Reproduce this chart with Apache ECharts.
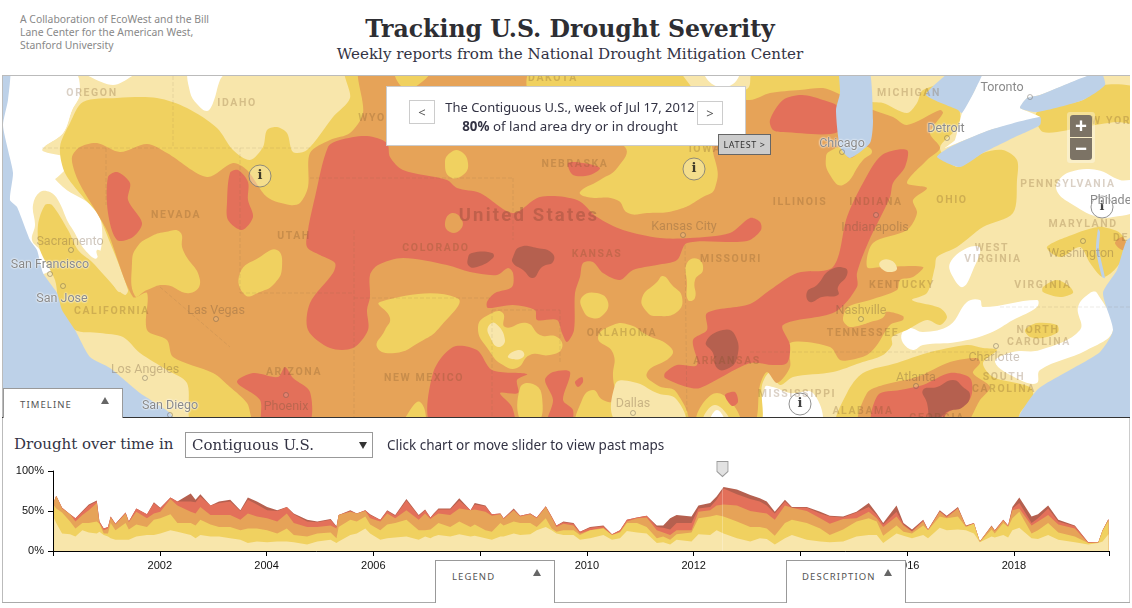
<!DOCTYPE html>
<html><head><meta charset="utf-8">
<script src="https://cdn.jsdelivr.net/npm/echarts@6/dist/echarts.min.js"></script>
<style>
html,body{margin:0;padding:0;background:#fff;width:1132px;height:608px;overflow:hidden}
div{position:absolute;white-space:nowrap;box-sizing:border-box}
#collab{left:20px;top:13px;font:10.4px/13px "Noto Sans",sans-serif;color:#888;white-space:pre}
#title{left:0;width:1140px;text-align:center;top:12px;font:bold 23.6px/34px "DejaVu Serif",serif;color:#2e2e33}
#sub{left:0;width:1140px;text-align:center;top:44px;font:15.1px/20px "DejaVu Serif",serif;color:#333344}
#map{left:2px;top:76px;width:1128px;height:341px;overflow:hidden}
#mapChart{left:0;top:0;width:1128px;height:341px}
#frameTop{left:2px;top:75px;width:1128px;height:1px;background:#bbb}
#frameBot{left:2px;top:417px;width:1128px;height:1px;background:#333}
#frameL{left:2px;top:75px;width:1px;height:528px;background:#bbb}
#frameR{left:1129px;top:417px;width:1px;height:186px;background:#ccc}
#frameB{left:2px;top:602px;width:1128px;height:1px;background:#aaa}
.lab{transform:translate(-50%,-50%);font-family:Roboto,sans-serif}
.st{font-size:10.5px;font-weight:700;letter-spacing:1.6px;color:rgba(120,80,40,.27)}
.city{font-size:12.5px;color:rgba(110,85,60,.34)}
.clear{color:#8a8a8a;text-shadow:0 0 2px #fff,0 0 2px #fff}
.big{font-size:18.5px;font-weight:700;letter-spacing:2.2px;color:rgba(130,70,50,.36)}
#box{left:386px;top:86px;width:360px;height:60px;background:#fff;border:1px solid #ccc}
.nav{width:26px;height:24px;background:#fff;border:1px solid #ccc;color:#555;font:13px/22px "Noto Sans",sans-serif;text-align:center}
#t1{left:386px;width:368px;text-align:center;top:98px;font:12.95px/18px "Noto Sans",sans-serif;color:#334}
#t2{left:386px;width:368px;text-align:center;top:117px;font:13.3px/18px "Noto Sans",sans-serif;color:#334}
#latest{left:718px;top:134px;width:53px;height:21px;background:#ccc;border:1px solid #666;font:9px/19px "Noto Sans",sans-serif;letter-spacing:.6px;text-align:center;color:#333}
#zoomH{left:1067px;top:112px;width:28px;height:51px;background:rgba(255,255,255,.35);border-radius:3px}
.zb{left:1070px;width:22px;height:22px;background:#7c7365;color:#fff;text-align:center;font:bold 21px/21px "Noto Sans",sans-serif}
.tab{background:#fff;border:1px solid #999;border-bottom:none;font:9.5px/12px "Noto Sans",sans-serif;letter-spacing:1.1px;color:#555}
.tri{width:0;height:0;border-left:4px solid transparent;border-right:4px solid transparent;border-bottom:7px solid #666}
#lbl{left:14px;top:434px;font:15px/20px "DejaVu Serif",serif;color:#334}
#sel{left:185px;top:432px;width:188px;height:26px;border:1px solid #999;background:#fff;font:15px/24px "DejaVu Serif",serif;color:#334;padding-left:6px}
#caret{left:359px;top:442px;width:0;height:0;border-left:4px solid transparent;border-right:4px solid transparent;border-top:7px solid #333}
#hint{left:387px;top:435px;font:13.5px/20px "Noto Sans",sans-serif;color:#334}
#timeChart{left:0;top:455px;width:1132px;height:125px}
</style></head><body>
<div id="collab">A Collaboration of EcoWest and the Bill
Lane Center for the American West,
Stanford University</div>
<div id="title">Tracking U.S. Drought Severity</div>
<div id="sub">Weekly reports from the National Drought Mitigation Center</div>
<div id="map"><div id="mapChart"></div><div id="mapLabels"></div></div>
<div id="frameTop"></div><div id="frameL"></div><div id="frameR"></div>
<div id="timeChart"></div>
<div id="frameB"></div><div id="frameBot"></div>
<div id="box"></div>
<div class="nav" style="left:409px;top:100px">&lt;</div>
<div class="nav" style="left:697px;top:101px">&gt;</div>
<div id="t1">The Contiguous U.S., week of Jul 17, 2012</div>
<div id="t2"><b>80%</b> of land area dry or in drought</div>
<div id="latest">LATEST &gt;</div>
<div id="zoomH"></div>
<div class="zb" style="top:115px;border-radius:3px 3px 0 0">+</div>
<div class="zb" style="top:138px;border-radius:0 0 3px 3px">−</div>
<div class="tab" style="left:3px;top:388px;width:120px;height:30px;padding:10px 0 0 16px">TIMELINE</div>
<div class="tri" style="left:101px;top:397px"></div>
<div class="tab" style="left:435px;top:560px;width:120px;height:43px;padding:10px 0 0 16px">LEGEND</div>
<div class="tri" style="left:533px;top:569px"></div>
<div class="tab" style="left:786px;top:560px;width:120px;height:43px;padding:10px 0 0 15px">DESCRIPTION</div>
<div class="tri" style="left:884px;top:569px"></div>
<div id="lbl">Drought over time in</div>
<div id="sel">Contiguous U.S.</div><div id="caret"></div>
<div id="hint">Click chart or move slider to view past maps</div>
<script>
// ---------- timeline values (% of land area at or above each severity) ----------
var years=[2000.02,2000.06,2000.17,2000.32,2000.42,2000.55,2000.67,2000.82,2000.87,2000.95,
2001.03,2001.08,2001.17,2001.36,2001.42,2001.56,2001.76,2001.89,2002.01,2002.20,
2002.33,2002.58,2002.67,2002.76,2002.95,2003.11,2003.32,2003.51,2003.65,2003.82,
2004.01,2004.20,2004.38,2004.51,2004.76,2004.95,2005.20,2005.31,2005.35,2005.57,
2005.69,2005.85,2005.94,2006.13,2006.26,2006.41,2006.62,2006.85,2006.97,2007.07,
2007.13,2007.22,2007.44,2007.61,2007.82,2007.90,2008.10,2008.22,2008.38,2008.44,
2008.63,2008.75,2008.94,2009.06,2009.23,2009.34,2009.43,2009.56,2009.75,2009.87,
2010.06,2010.31,2010.47,2010.62,2010.75,2010.94,2011.12,2011.31,2011.43,2011.56,
2011.68,2011.96,2012.09,2012.31,2012.43,2012.56,2012.81,2013.06,2013.24,2013.37,
2013.52,2013.71,2013.84,2014.12,2014.37,2014.55,2014.80,2015.05,2015.28,2015.43,
2015.55,2015.80,2015.93,2016.09,2016.30,2016.39,2016.61,2016.74,2016.95,2017.10,
2017.25,2017.36,2017.58,2017.64,2017.80,2017.89,2017.97,2018.10,2018.33,2018.45,
2018.64,2018.83,2019.14,2019.39,2019.58,2019.66,2019.77];
var d0=[41,35,22,21,18,26,23,22,24,20,
18,16,14,14,14,18,20,20,22,26,
24,20,16,20,18,18,16,14,10,12,
11,12,12,11,8,12,14,10,12,20,
22,28,22,14,16,17,18,14,18,16,
18,20,18,21,18,19,16,14,18,18,
22,20,21,26,30,26,22,20,20,14,
16,20,14,16,25,23,22,10,11,8,
14,12,21,20,26,22,16,12,16,15,
8,16,20,14,12,11,12,18,20,20,
10,22,19,16,20,16,29,26,27,26,
22,11,18,17,20,17,26,29,16,15,
20,14,11,8,10,12,21];
var d1=[57,53,48,37,28,35,35,37,34,22,
22,35,26,35,27,33,30,39,41,46,
35,35,32,39,33,30,30,26,28,28,
26,22,28,20,18,22,23,16,30,39,
37,43,33,26,33,35,39,26,26,27,
30,35,30,37,30,33,26,24,35,32,
37,35,35,30,41,28,24,26,26,20,
26,28,20,23,35,35,30,16,18,14,
21,23,41,43,45,43,37,30,30,28,
19,35,39,35,28,20,27,37,41,37,
19,32,24,22,32,26,43,41,43,30,
34,11,27,22,35,30,41,49,22,26,
35,23,18,10,10,25,38];
var d2=[62,69,53,46,37,45,51,60,35,26,
28,42,33,47,36,49,41,47,49,65,
57,49,47,55,45,45,45,39,47,43,
41,37,47,35,30,30,32,28,45,49,
47,50,41,37,47,41,51,39,47,40,
43,47,45,53,51,52,49,44,46,40,
51,43,46,41,55,42,30,34,32,22,
26,29,20,24,37,41,42,26,23,20,
26,26,49,51,57,58,57,50,48,47,
39,57,54,50,41,34,40,41,49,41,
30,43,32,24,37,26,49,42,53,31,
34,12,31,25,38,31,51,53,32,37,
45,33,28,10,11,26,39];
var d3=[62,69,54,46,41,49,57,62,37,28,
30,43,34,48,37,53,46,60,53,67,
62,62,61,68,57,60,62,50,64,58,
51,50,55,46,37,36,39,30,45,50,
47,51,45,39,50,44,63,44,51,42,
46,52,52,63,51,58,56,46,47,41,
52,44,47,42,56,43,32,36,34,24,
29,31,21,26,39,42,44,30,29,27,
35,35,53,55,64,78,71,65,62,57,
47,62,54,54,47,43,42,48,55,45,
33,49,33,25,38,27,50,43,54,31,
35,12,31,26,39,32,53,60,35,41,
53,37,31,11,11,26,40];
var d4=[62,69,54,46,41,50,58,63,37,28,
30,43,34,48,37,53,46,61,54,67,
62,72,64,71,57,62,64,51,67,62,
55,51,55,47,39,37,40,31,45,51,
47,51,46,39,51,45,65,45,52,42,
47,53,53,66,51,60,57,46,47,41,
53,44,47,42,56,43,32,37,35,24,
30,32,21,26,39,42,44,32,32,41,
45,43,57,60,68,80,77,70,66,62,
49,64,55,55,49,44,43,49,60,47,
35,57,35,27,39,27,51,44,55,32,
35,12,32,26,39,32,55,67,43,46,
57,39,32,11,11,26,40];
var selectedWeek=2012.54;
var tickYears=[2000,2002,2004,2006,2008,2010,2012,2014,2016,2018,2019.78];
var labelYears=[2002,2004,2006,2008,2010,2012,2014,2016,2018];

// ---------- map areas, traced in map units ----------
var areaD0=[[[72,70],[113,85],[147,70],[1140,65],[1140,425],[0,425],[0,190],[35,192],[72,160],[42,150],[63,133],[72,110],[80,93]]];
var areaClear=[
[[-5,65],[72,70],[80,93],[72,110],[63,133],[42,150],[47,167],[63,187],[93,207],[102,228],[97,258],[85,250],[73,230],[68,222],[58,200],[50,192],[40,192],[33,205],[35,225],[32,240],[40,250],[52,270],[-5,275]],
[[190,70],[190,92],[197,104],[207,111],[213,103],[220,80],[226,70]],
[[1057,183],[1070,172],[1097,170],[1120,180],[1135,182],[1135,210],[1113,217],[1097,217],[1070,203],[1058,193]],
[[950,263],[967,248],[980,248],[973,270],[963,287],[953,277]],
[[902,333],[910,328],[923,332],[950,325],[967,302],[980,300],[983,307],[1037,300],[1037,307],[1013,320],[990,333],[957,342],[923,345],[913,350],[903,343]],
[[1097,293],[1113,330],[1087,350],[1040,370],[1037,383],[1020,380],[995,362],[1013,352],[1040,350],[1080,330],[1078,307],[1090,293]],
[[765,387],[773,387],[790,393],[813,393],[820,425],[763,425]]];
var areaD1=[
[[83,102],[117,98],[157,98],[187,108],[217,128],[233,150],[250,160],[263,147],[267,130],[277,127],[287,133],[293,152],[307,150],[333,117],[350,98],[347,70],[860,70],[867,100],[883,103],[907,113],[917,103],[923,90],[950,85],[960,113],[958,127],[940,148],[957,167],[983,153],[1003,150],[1017,160],[1017,180],[1013,213],[983,227],[957,247],[937,257],[935,267],[927,293],[912,300],[940,308],[947,317],[940,325],[927,320],[907,330],[892,337],[892,345],[883,355],[860,363],[833,372],[793,377],[780,385],[770,372],[762,385],[757,425],[195,425],[187,383],[167,370],[140,353],[123,337],[100,333],[75,330],[60,310],[55,280],[40,250],[38,225],[45,205],[52,205],[68,230],[78,250],[92,262],[115,287],[125,295],[128,290],[107,235],[97,213],[83,197],[65,173],[60,147],[70,123]],
[[1037,112],[1083,100],[1103,85],[1140,90],[1140,123],[1117,122],[1083,127],[1043,132]],
[[1047,247],[1077,233],[1093,228],[1103,227],[1120,233],[1127,247],[1117,267],[1103,277],[1090,263],[1080,247],[1060,257]],
[[1043,287],[1057,280],[1070,287],[1073,293],[1060,297],[1043,292]],
[[1025,330],[1037,323],[1057,325],[1058,332],[1043,338],[1030,337]],
[[838,425],[847,393],[863,373],[897,363],[927,353],[967,345],[983,348],[997,350],[983,363],[993,377],[1030,387],[1033,397],[1020,413],[1017,425]]];
var areaD2=[
[[72,157],[80,147],[97,143],[120,152],[147,144],[167,153],[207,177],[233,163],[247,170],[267,197],[290,205],[300,203],[308,187],[310,153],[330,140],[350,133],[363,113],[362,65],[537,65],[537,90],[700,95],[750,100],[770,93],[800,90],[823,88],[837,93],[850,100],[873,110],[893,117],[907,125],[940,110],[943,113],[930,133],[940,148],[927,160],[907,183],[927,188],[913,200],[917,213],[907,230],[873,243],[867,267],[882,267],[923,267],[913,277],[900,280],[897,290],[870,300],[848,307],[843,320],[850,327],[870,322],[885,312],[903,316],[903,320],[890,325],[877,345],[867,355],[850,360],[840,360],[830,347],[790,343],[790,367],[777,383],[767,372],[760,385],[750,425],[257,425],[247,403],[230,387],[213,373],[173,357],[167,340],[147,330],[147,293],[133,297],[108,233],[97,213],[83,190],[75,173]],
[[860,425],[867,393],[883,385],[917,377],[950,362],[977,358],[980,363],[973,373],[990,387],[980,400],[963,425]],
[[1115,243],[1122,237],[1128,248],[1122,250]]];
var islandD1=[
[[590,135],[700,135],[715,160],[715,188],[703,197],[677,210],[647,213],[628,213],[617,200],[587,197],[580,192],[600,180],[618,167],[625,147]],
[[537,65],[687,65],[687,100],[537,100]],
[[397,65],[400,85],[415,87],[432,65]],
[[445,163],[450,153],[460,151],[468,163],[463,175],[450,177]],
[[132,263],[137,247],[150,237],[165,232],[180,232],[183,250],[200,280],[190,293],[165,285],[147,290],[135,296]],
[[240,273],[260,257],[277,250],[282,267],[275,283],[260,292],[245,295]],
[[380,302],[457,298],[440,327],[420,342],[395,353],[377,347],[385,330],[390,318]],
[[478,327],[492,313],[503,313],[505,327],[527,323],[540,335],[557,337],[562,348],[550,355],[530,355],[517,368],[503,365],[490,352]],
[[582,297],[597,293],[608,302],[603,315],[592,318],[583,310]],
[[687,263],[698,259],[703,270],[695,280],[695,298],[688,300],[687,283]],
[[642,298],[657,282],[663,276],[672,285],[682,297],[677,312],[657,316],[647,312]],
[[598,338],[613,325],[630,325],[647,335],[668,345],[672,355],[647,373],[657,385],[677,393],[683,425],[580,425],[582,400],[593,390],[603,400],[615,400],[613,377],[613,353]],
[[520,388],[533,384],[542,397],[537,425],[522,425]],
[[407,415],[420,402],[424,425],[405,425]],
[[826,157],[832,150],[842,148],[850,158],[865,147],[872,152],[863,160],[843,185],[830,175]],
[[697,425],[717,393],[740,425]],
[[845,318],[860,310],[880,305],[885,315],[870,322],[850,325]]];
var islandD0=[
[[488,327],[495,323],[505,340],[498,347],[490,337]],
[[508,356],[518,350],[524,353],[522,358],[512,359]],
[[615,385],[633,382],[657,393],[677,400],[682,425],[620,425]],
[[703,425],[715,405],[730,425]],
[[682,65],[690,85],[700,90],[745,90],[752,70],[755,65]],
[[97,250],[107,257],[120,275],[120,292],[110,280],[100,262]],
[[880,262],[890,260],[897,268],[892,272],[882,269]]];
var islandClear=[[[705,65],[712,84],[733,84],[738,65]],[[710,425],[717,410],[725,425]]];
var areaD3=[
[[328,147],[340,140],[367,136],[387,143],[390,157],[403,170],[447,180],[457,188],[480,193],[513,213],[540,197],[577,200],[597,217],[623,230],[660,238],[690,238],[730,233],[750,218],[760,222],[761,230],[750,240],[737,242],[687,243],[677,260],[657,265],[633,270],[620,280],[603,273],[593,262],[583,263],[580,277],[575,293],[574,330],[567,342],[562,333],[557,320],[537,320],[535,310],[513,305],[488,308],[487,302],[495,293],[512,287],[513,273],[508,268],[497,275],[470,272],[447,265],[403,258],[378,265],[370,275],[370,297],[367,310],[368,330],[353,348],[330,348],[308,330],[310,303],[333,273],[335,263],[320,255],[307,247],[308,230],[315,197]],
[[108,177],[117,172],[130,183],[128,200],[142,223],[133,237],[117,240],[108,213]],
[[227,203],[230,173],[238,170],[248,182],[248,200],[253,217],[242,230],[228,220]],
[[568,163],[583,163],[600,168],[590,175],[573,175]],
[[770,120],[783,100],[802,95],[823,100],[838,107],[838,132],[783,132],[773,130]],
[[237,382],[253,373],[278,377],[285,367],[293,378],[310,392],[308,425],[263,425],[260,400]],
[[432,425],[433,373],[453,347],[477,350],[492,370],[527,374],[517,380],[518,393],[500,393],[512,407],[513,425]],
[[545,380],[553,372],[570,372],[563,400],[573,410],[570,425],[547,425],[553,400]],
[[575,382],[582,377],[583,382],[578,387]],
[[882,155],[907,150],[905,167],[893,183],[890,197],[868,243],[857,273],[857,287],[835,312],[783,325],[790,345],[787,363],[773,365],[750,363],[700,388],[687,387],[665,378],[665,373],[677,365],[697,365],[693,340],[707,330],[707,313],[750,304],[770,290],[797,273],[833,267],[847,217],[863,183]],
[[725,395],[735,392],[738,402],[732,406]],
[[873,425],[878,395],[900,390],[923,385],[950,373],[970,378],[972,393],[967,403],[947,413],[940,425]]];
var islandD2=[[[445,223],[452,213],[462,220],[460,230],[450,232]]];
var areaD4=[
[[468,258],[472,253],[492,253],[493,258],[477,267],[469,266]],
[[513,257],[520,247],[537,248],[552,253],[553,262],[542,267],[533,278],[523,270],[513,263]],
[[706,342],[723,330],[735,335],[737,358],[727,369],[717,368],[713,353]],
[[807,292],[817,285],[830,270],[845,268],[847,275],[838,287],[838,295],[822,297],[810,302]],
[[923,390],[937,387],[953,380],[963,387],[970,395],[963,407],[947,412],[932,425],[927,403]]];
var waterAreas=[
[[-5,65],[10,65],[8,100],[3,125],[8,150],[13,173],[10,200],[17,207],[30,240],[37,250],[43,273],[57,293],[62,310],[75,330],[90,357],[110,368],[140,393],[170,413],[175,425],[-5,425]],
[[1017,425],[1037,390],[1070,370],[1100,352],[1113,330],[1103,293],[1117,270],[1127,240],[1140,235],[1140,425]],
[[840,65],[868,65],[873,120],[870,143],[850,158],[840,147],[836,110],[840,93]],
[[926,95],[940,80],[960,65],[985,65],[975,90],[962,113],[958,110]],
[[937,157],[950,147],[990,130],[1040,117],[1040,125],[1013,138],[983,153],[960,167]],
[[1020,108],[1027,98],[1040,95],[1100,72],[1105,85],[1083,100],[1037,112]],
[[1098,229],[1100,232],[1099,250],[1105,278],[1102,277],[1096,250]]];
var canadaAreas=[[[985,65],[975,90],[962,113],[955,140],[945,148],[990,130],[1040,117],[1020,108],[1027,98],[1040,95],[1100,72],[1140,75],[1140,65]]];
var stateBorders=[
[[42,148],[310,148]],[[173,70],[173,148]],[[106,148],[106,205]],[[160,287],[230,347]],
[[240,148],[240,293]],[[240,293],[354,293]],[[354,230],[354,420]],[[310,178],[513,178]],
[[513,178],[513,240]],[[354,298],[492,298]],[[492,310],[492,420]],[[492,310],[560,310]],
[[560,310],[560,363]],[[685,245],[687,420]],[[1000,307],[1130,307]],[[750,352],[1000,352]]];
var stateNames=["OREGON","IDAHO","WYO","NEVADA","UTAH","DAKOTA","NEBRASKA","IOWA","COLORADO","KANSAS","MISSOURI","ILLINOIS","INDIANA","OHIO","MICHIGAN","NEW YORK","PENNSYLVANIA","MARYLAND","WEST","VIRGINIA","VIRGINIA","KENTUCKY","TENNESSEE","NORTH","CAROLINA","SOUTH","CAROLINA","MISSISSIPPI","ALABAMA","GEORGIA","ARKANSAS","OKLAHOMA","NEW MEXICO","ARIZONA","CALIFORNIA","DE"];
var stateX=[92,237,372,176,294,553,575,705,436,597,731,800,876,952,909,1107,1068,1083,992,993,1043,902,863,1038,1039,1004,1004,797,863,937,727,622,424,294,112,1121];
var stateY=[92,102,117,214,235,77,163,148,247,253,258,201,201,199,92,120,183,223,247,258,284,284,332,329,341,376,388,393,410,417,360,332,377,371,310,237];
var cityNames=["Toronto","Detroit","Chicago","Kansas City","Indianapolis","Nashville","Charlotte","Atlanta","Washington","Philadelphia","Sacramento","San Francisco","San Jose","Las Vegas","Los Angeles","San Diego","Phoenix","Dallas"];
var cityX=[1002,946,842,684,875,861,994,916,1081,1124,70,50,62,216,145,170,286,633];
var cityY=[86,127,142,225,226,309,356,376,252,199,240,263,297,309,368,404,405,402];
var cityClear=[1,1,1,0,0,0,0,0,0,1,0,1,1,0,0,1,0,0];
var dotX=[1030,947,842,683,876,861,996,916,1083,71,50,63,216,145,170,286,633];
var dotY=[97,138,152,235,215,319,346,386,241,250,274,286,319,378,415,395,413];
var countryName="United States", countryX=529, countryY=215;
var infoX=[260,694,1102,800], infoY=[176,169,207,404];

var colors={d0:'#F8E6AB',d1:'#F0D160',d2:'#E6A358',d3:'#E3705A',d4:'#B5604F',clear:'#FFFFFF',water:'#BDD1E8'};

// ---------- map ----------
function layer(name,areas,color,z,smooth){
  return {type:'custom',name:name,coordinateSystem:'cartesian2d',clip:false,silent:true,z:z,
    data:areas.map(function(a){return [a[0][0],a[0][1]];}),
    renderItem:function(p,api){
      return {type:'polygon',shape:{points:areas[p.dataIndex].map(function(q){return api.coord(q);}),smooth:smooth,smoothConstraint:false},style:{fill:color}};
    }};
}
var borderSeries=stateBorders.map(function(b){
  return {type:'line',data:b,showSymbol:false,silent:true,z:20,lineStyle:{color:'rgba(110,90,70,.13)',width:1,type:'dashed'}};
});
var mapChart=echarts.init(document.getElementById('mapChart'),null,{renderer:'canvas'});
mapChart.setOption({animation:false,
  grid:{left:0,right:0,top:0,bottom:0},
  xAxis:{type:'value',min:2,max:1130,show:false},
  yAxis:{type:'value',min:76,max:417,inverse:true,show:false},
  series:[
    layer('D0',areaD0,colors.d0,1,0.3),
    layer('None',areaClear,colors.clear,2,0.4),
    layer('D1',areaD1,colors.d1,3,0.3),
    layer('D2',areaD2,colors.d2,4,0.3),
    layer('D1 patches',islandD1,colors.d1,5,0.5),
    layer('D0 patches',islandD0,colors.d0,6,0.5),
    layer('None patches',islandClear,colors.clear,7,0.5),
    layer('D3',areaD3,colors.d3,8,0.3),
    layer('D2 patches',islandD2,colors.d2,9,0.5),
    layer('D4',areaD4,colors.d4,10,0.5),
    layer('Canada',canadaAreas,colors.clear,11,0.1),
    layer('Water',waterAreas,colors.water,12,0.2)
  ].concat(borderSeries).concat([{
    type:'scatter',z:25,silent:true,symbol:'circle',symbolSize:5,
    data:dotX.map(function(x,i){return [x,dotY[i]];}),
    itemStyle:{color:'rgba(255,255,255,.15)',borderColor:'rgba(90,80,70,.5)',borderWidth:1}
  },{
    type:'scatter',z:30,silent:true,symbol:'circle',symbolSize:22,
    data:infoX.map(function(x,i){return [x,infoY[i]];}),
    itemStyle:{color:'rgba(255,255,255,.35)',borderColor:'#777',borderWidth:1},
    label:{show:true,position:'inside',formatter:'i',color:'#111',fontFamily:'DejaVu Serif',fontWeight:'bold',fontSize:13}
  }])
});
var labHtml='<div class="lab big" style="left:'+(countryX-2)+'px;top:'+(countryY-76)+'px">'+countryName+'</div>';
stateNames.forEach(function(n,i){labHtml+='<div class="lab st" style="left:'+(stateX[i]-2)+'px;top:'+(stateY[i]-76)+'px">'+n+'</div>';});
cityNames.forEach(function(n,i){labHtml+='<div class="lab city'+(cityClear[i]?' clear':'')+'" style="left:'+(cityX[i]-2)+'px;top:'+(cityY[i]-76)+'px">'+n+'</div>';});
document.getElementById('mapLabels').innerHTML=labHtml;

// ---------- timeline ----------
function bandSeries(name,vals,color,z,extra){
  var s={type:'line',name:name,data:years.map(function(y,i){return [y,vals[i]];}),showSymbol:false,silent:true,z:z,
    lineStyle:{width:0,color:color},areaStyle:{color:color,opacity:1},itemStyle:{color:color}};
  if(extra) for(var k in extra) s[k]=extra[k];
  return s;
}
var timeChart=echarts.init(document.getElementById('timeChart'));
timeChart.setOption({animation:false,
  grid:{left:53,right:23,top:16,height:80},
  xAxis:{type:'value',min:2000,max:2019.78,interval:2,splitLine:{show:false},
    axisLine:{show:true,onZero:false,lineStyle:{color:'#000',width:1}},
    axisTick:{show:true,length:5,lineStyle:{color:'#000'},customValues:tickYears},
    axisLabel:{color:'#111',fontFamily:'Liberation Sans',fontSize:11,margin:9,customValues:labelYears,
      formatter:function(v){return String(Math.round(v));}}},
  yAxis:{type:'value',min:0,max:100,interval:50,splitLine:{show:false},
    axisLine:{show:true,lineStyle:{color:'#000',width:1}},
    axisTick:{show:true,length:5,lineStyle:{color:'#000'}},
    axisLabel:{color:'#111',fontFamily:'Liberation Sans',fontSize:11,margin:9,formatter:'{value}%'}},
  series:[
    bandSeries('D4',d4,colors.d4,1),
    bandSeries('D3',d3,colors.d3,2),
    bandSeries('D2',d2,colors.d2,3),
    bandSeries('D1',d1,colors.d1,4),
    bandSeries('D0',d0,colors.d0,5)
  ]
});
// slider handle sits just above the 100% line, at the selected week
var handle=timeChart.convertToPixel({xAxisIndex:0,yAxisIndex:0},[selectedWeek,102.5]);
timeChart.setOption({series:[{name:'D0',
  markPoint:{silent:true,symbol:'path://M0 0H10V10L5 15L0 10Z',symbolSize:[11,15],
    data:[{x:handle[0],y:handle[1]}],itemStyle:{color:'#e2e2e2',borderColor:'#999',borderWidth:1},label:{show:false}},
  markLine:{silent:true,symbol:'none',label:{show:false},data:[{xAxis:selectedWeek}],lineStyle:{color:'rgba(255,255,255,.25)',width:1,type:'solid'}}
}]});
</script>
</body></html>
